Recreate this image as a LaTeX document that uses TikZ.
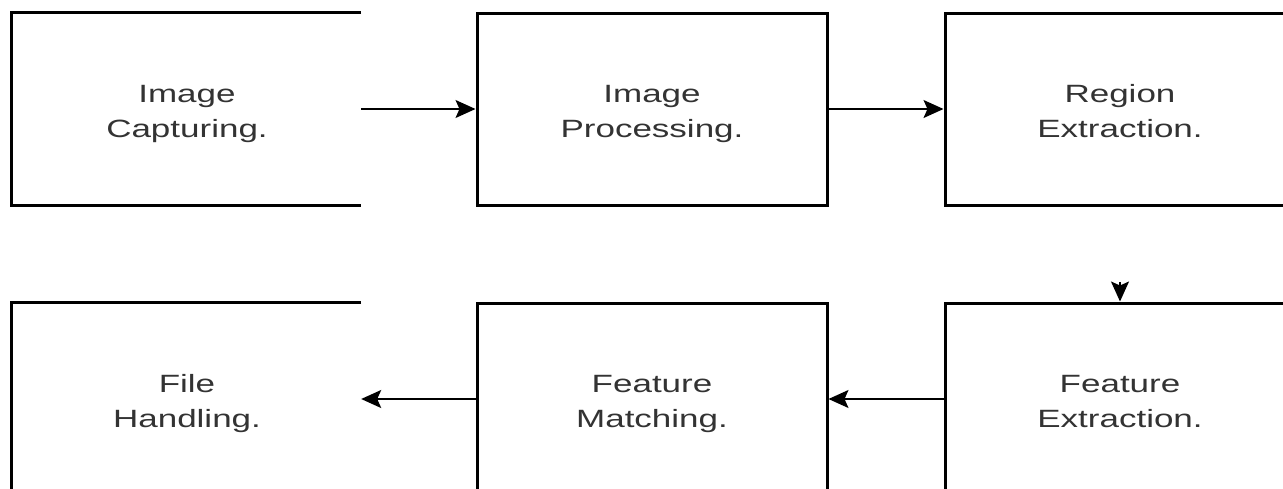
\documentclass[tikz,border=0pt]{standalone}
\usepackage{fontspec}
\newfontfamily\boxfont[FakeStretch=1.4]{Liberation Sans}
\usetikzlibrary{arrows.meta}
\definecolor{txt}{HTML}{333333}
\newcommand{\twolines}[2]{\raisebox{-4pt}[\height][\depth]{\begin{tabular}{@{}c@{}}#1\\#2\end{tabular}}}
\tikzset{
  stepbox/.style={minimum width=350pt, minimum height=192pt, inner sep=0pt,
    text=txt, font=\boxfont\fontsize{25}{35}\selectfont},
  boxline/.style={line width=3pt},
  flow/.style={line width=1.5pt, -{Stealth[length=20pt,width=18pt,inset=4pt]}}
}
\begin{document}
\begin{tikzpicture}[x=1pt,y=-1pt]
\useasboundingbox (0,0) rectangle (1283,488);
\clip (0,0) rectangle (1283,488);
% top row
\node[stepbox] (cap) at (187,109) {\twolines{Image}{Capturing.}};
\node[stepbox, draw, boxline] (proc) at (652,109) {\twolines{Image}{Processing.}};
\node[stepbox, draw, boxline] (reg) at (1120,109) {\twolines{Region}{Extraction.}};
% bottom row
\node[stepbox] (file) at (187,399) {\twolines{File}{Handling.}};
\node[stepbox, draw, boxline] (match) at (652,399) {\twolines{Feature}{Matching.}};
\node[stepbox, draw, boxline] (feat) at (1120,399) {\twolines{Feature}{Extraction.}};
% open outlines of the left boxes
\draw[boxline] ([xshift=-1pt]cap.north east) -- (cap.north west) -- (cap.south west) -- ([xshift=-1pt]cap.south east);
\draw[boxline] ([xshift=-1pt]file.north east) -- (file.north west) -- (file.south west) -- ([xshift=-1pt]file.south east);
% connectors
\draw[flow] ([xshift=-1pt]cap.east) -- (proc.west);
\draw[flow] (proc.east) -- (reg.west);
\coordinate (dtop) at (1120,282);
\draw[flow] (dtop) -- (feat.north);
\draw[flow] (feat.west) -- (match.east);
\draw[flow] (match.west) -- ([xshift=-1pt]file.east);
\end{tikzpicture}
\end{document}
